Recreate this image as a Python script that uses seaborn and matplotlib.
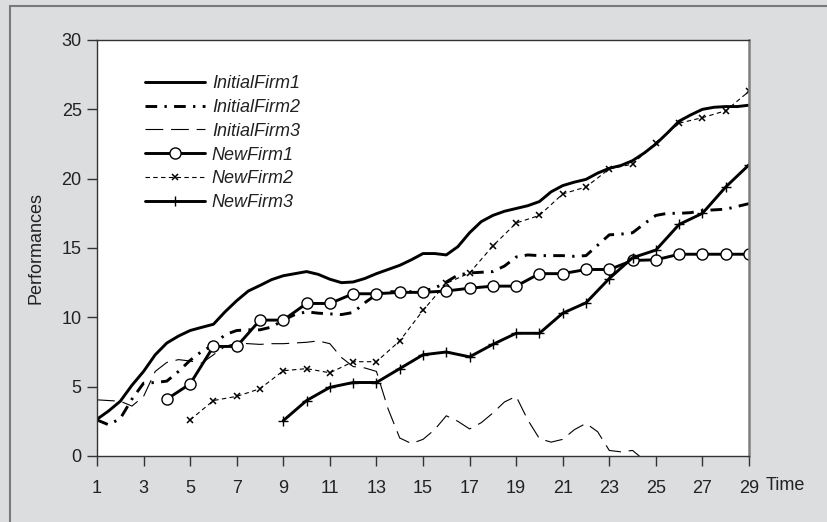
import numpy as np
import pandas as pd
import matplotlib
matplotlib.use("Agg")
import matplotlib.pyplot as plt
from matplotlib import font_manager
from matplotlib.patches import Rectangle
import seaborn as sns

# data
half_steps = [1 + 0.5 * i for i in range(57)]   # 1, 1.5, ... 29

initial_firm1 = [2.65, 3.25, 3.95, 5.1, 6.1, 7.3, 8.15, 8.65, 9.05, 9.28,
                 9.5, 10.4, 11.2, 11.9, 12.3, 12.72, 13.0, 13.15, 13.3, 13.1,
                 12.75, 12.5, 12.55, 12.8, 13.15, 13.45, 13.75, 14.15, 14.6, 14.6,
                 14.5, 15.1, 16.1, 16.9, 17.35, 17.65, 17.85, 18.05, 18.35, 19.05,
                 19.5, 19.75, 19.95, 20.4, 20.75, 20.95, 21.3, 21.85, 22.5, 23.3,
                 24.15, 24.6, 25.0, 25.15, 25.2, 25.2, 25.3]

initial_firm2 = [2.6, 2.25, 2.7, 4.1, 5.25, 5.3, 5.4, 6.1, 6.9, 7.55,
                 8.0, 8.75, 9.05, 9.1, 9.1, 9.3, 9.8, 10.2, 10.4, 10.3,
                 10.25, 10.2, 10.35, 11.05, 11.65, 11.85, 11.85, 11.85, 11.9, 12.1,
                 12.55, 13.05, 13.2, 13.25, 13.3, 13.7, 14.35, 14.5, 14.45, 14.45,
                 14.45, 14.4, 14.45, 15.2, 15.95, 16.0, 16.1, 16.75, 17.35, 17.5,
                 17.5, 17.55, 17.7, 17.75, 17.8, 18.0, 18.2]

initial_firm3 = [4.05, 4.0, 3.95, 3.6, 4.3, 6.1, 6.75, 6.95, 6.85, 6.7,
                 7.3, 7.9, 8.15, 8.1, 8.05, 8.1, 8.1, 8.15, 8.2, 8.3,
                 8.1, 7.1, 6.45, 6.35, 6.1, 3.4, 1.3, 0.9, 1.2, 1.9,
                 2.9, 2.5, 1.95, 2.4, 3.1, 3.9, 4.3, 2.6, 1.25, 1.0,
                 1.2, 1.9, 2.35, 1.75, 0.4, 0.3, 0.4, -0.3]

new_firm1_time = list(range(4, 30))
new_firm1 = [4.1, 5.2, 7.9, 7.9, 9.8, 9.8, 11.0, 11.0, 11.7, 11.7,
             11.8, 11.8, 11.9, 12.1, 12.25, 12.25, 13.15, 13.15, 13.45, 13.45,
             14.1, 14.15, 14.55, 14.55, 14.55, 14.55]

new_firm2_time = list(range(5, 30))
new_firm2 = [2.6, 4.0, 4.3, 4.85, 6.15, 6.3, 6.0, 6.8, 6.8, 8.3,
             10.5, 12.45, 13.2, 15.15, 16.8, 17.35, 18.9, 19.4, 20.7, 21.05,
             22.6, 24.0, 24.4, 24.9, 26.3]

new_firm3_time = list(range(9, 30))
new_firm3 = [2.55, 4.0, 4.95, 5.3, 5.3, 6.3, 7.3, 7.5, 7.15, 8.05,
             8.85, 8.85, 10.3, 11.05, 12.8, 14.3, 14.85, 16.7, 17.5, 19.4,
             21.0]

x_ticks = list(range(1, 30, 2))
y_ticks = list(range(0, 31, 5))

sns.set_theme(style="ticks")
names = {f.name for f in font_manager.fontManager.ttflist}
narrow = "Liberation Sans Narrow" if "Liberation Sans Narrow" in names else "Liberation Sans"
plt.rcParams["font.family"] = [narrow, "DejaVu Sans"]

fig = plt.figure(figsize=(8.28, 5.22), dpi=100)
fig.patch.set_facecolor("#dcdddf")
# frame line on the left and top of the figure
fig.patches.append(Rectangle((10 / 828, -0.1), 1.2, 1 - 6 / 522 + 0.1,
                             transform=fig.transFigure, fill=False,
                             edgecolor="#7a7a7a", linewidth=1.5))
ax = fig.add_axes([97 / 828, 1 - 456 / 522, 652 / 828, 416 / 522])
ax.set_facecolor("white")

df1 = pd.DataFrame({"Time": half_steps, "v": initial_firm1})
df2 = pd.DataFrame({"Time": half_steps, "v": initial_firm2})
df3 = pd.DataFrame({"Time": half_steps[:len(initial_firm3)], "v": initial_firm3})
dn1 = pd.DataFrame({"Time": new_firm1_time, "v": new_firm1})
dn2 = pd.DataFrame({"Time": new_firm2_time, "v": new_firm2})
dn3 = pd.DataFrame({"Time": new_firm3_time, "v": new_firm3})

sns.lineplot(data=df1, x="Time", y="v", ax=ax, color="black", lw=2.1,
             label="InitialFirm1")
sns.lineplot(data=df2, x="Time", y="v", ax=ax, color="black", lw=2.1,
             label="InitialFirm2").lines[-1].set_dashes((4, 2.5, 0.8, 2.5))
sns.lineplot(data=df3, x="Time", y="v", ax=ax, color="black", lw=0.8,
             label="InitialFirm3").lines[-1].set_dashes((16, 7))
sns.lineplot(data=dn1, x="Time", y="v", ax=ax, color="black", lw=2.1,
             marker="o", markersize=8, markerfacecolor="white",
             markeredgecolor="black", markeredgewidth=1.0, label="NewFirm1")
sns.lineplot(data=dn2, x="Time", y="v", ax=ax, color="black", lw=0.8,
             marker="x", markersize=5, markeredgecolor="black",
             markeredgewidth=1.1, label="NewFirm2").lines[-1].set_dashes((4, 3))
sns.lineplot(data=dn3, x="Time", y="v", ax=ax, color="black", lw=2.1,
             marker="+", markersize=7, markeredgecolor="black",
             markeredgewidth=1.0, label="NewFirm3")

ax.set_xlim(1, 29)
ax.set_ylim(0, 30)
ax.set_xticks(x_ticks)
ax.set_yticks(y_ticks)
ax.tick_params(axis="both", direction="out", length=7, width=1, color="#333333",
               labelsize=13, pad=4, labelcolor="#222222")
ax.tick_params(axis="x", pad=10)
for side in ["left", "bottom", "top"]:
    ax.spines[side].set_color("#333333")
    ax.spines[side].set_linewidth(1.0)
ax.spines["right"].set_color("#7f7f7f")
ax.spines["right"].set_linewidth(1.8)

ax.set_xlabel("")
ax.set_ylabel("Performances", fontsize=13, color="#222222", labelpad=12)
fig.text(766 / 828, 1 - 486 / 522, "Time", fontsize=13, color="#222222",
         ha="left", va="center")

leg = ax.legend(loc="upper left", bbox_to_anchor=(48 / 652, (456 - 75) / 416),
                frameon=False, borderpad=0, borderaxespad=0, handlelength=3.3,
                handletextpad=0.4, labelspacing=0.38,
                prop={"size": 13, "style": "italic"})
for t in leg.get_texts():
    t.set_color("#222222")

fig.savefig("out.png", dpi=100, facecolor=fig.get_facecolor())
